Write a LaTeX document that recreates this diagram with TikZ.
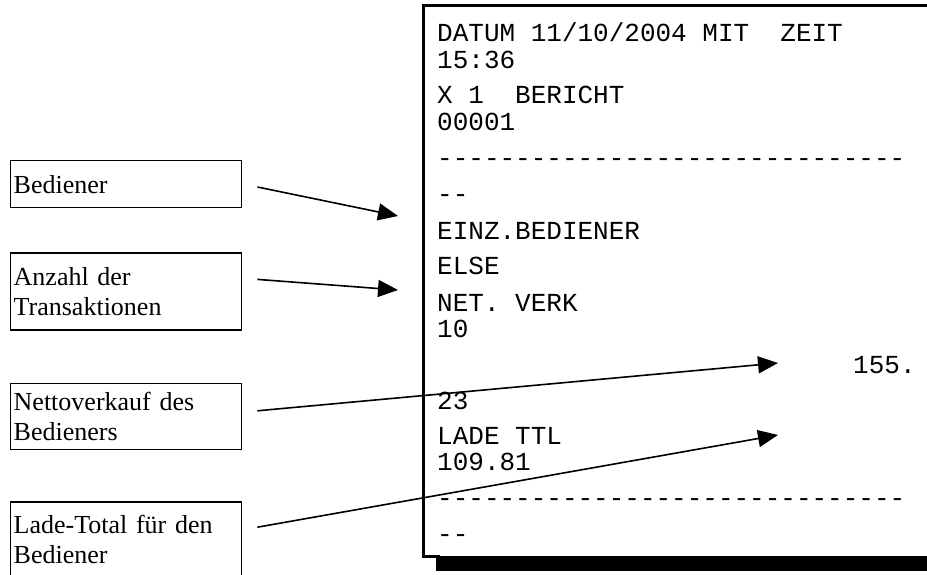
\documentclass[tikz,border=0pt]{standalone}
\usepackage{fontspec}
\setmainfont{Liberation Serif}
\setmonofont{Liberation Mono}
\usepackage{tikz}
\usetikzlibrary{arrows.meta, positioning, calc}

\begin{document}
\begin{tikzpicture}[
    x=1pt, y=-1pt,
    lbl/.style={rectangle, draw, line width=1.4pt, text width=225pt, inner xsep=3pt, minimum height=#1, align=left, font=\fontsize{26}{30}\selectfont},
    rline/.style={anchor=base west, inner sep=0pt, font=\ttfamily\fontsize{26}{28}\selectfont},
    arrow/.style={-{Triangle[length=20pt, width=17pt]}, line width=1.6pt}
]
\useasboundingbox (0,0) rectangle (927,575);
\clip (0,0) rectangle (927,575);

% labels on the left
\node[lbl=47pt, anchor=north west] (b1) at (10,160) {Bediener};
\node[lbl=77pt, below=44pt of b1] (b2) {Anzahl der\\Transaktionen};
\node[lbl=66pt, below=52pt of b2] (b3) {Nettoverkauf des\\Bedieners};
\node[lbl=0pt, below=51pt of b3, inner ysep=13pt, text depth=46pt] (b4) {Lade-Total f\"ur den\\Bediener};

% receipt
\fill (436,556) rectangle (940,571);
\draw[line width=3pt] (940,6) -| (423,556) -- (440,556);
\node[rline] (datum) at (437,41.5) {DATUM 11/10/2004 MIT\ \ ZEIT};
\node[rline] (zeit) at (437,68.5) {15:36};
\node[rline] (bericht) at (437,103.5) {X 1\ \ BERICHT};
\node[rline] (nr) at (437,130.5) {00001};
\node[rline] (sepa) at (437,166.5) {------------------------------};
\node[rline] (sepb) at (437,202.5) {--};
\node[rline] (einz) at (437,239.5) {EINZ.BEDIENER};
\node[rline] (else) at (437,274.5) {ELSE};
\node[rline] (netverk) at (437,311.5) {NET. VERK};
\node[rline] (ten) at (437,337.5) {10};
\node[rline] (neta) at (853,373.5) {155.};
\node[rline] (netb) at (437,409.5) {23};
\node[rline] (lade) at (437,444.5) {LADE TTL};
\node[rline] (ladeval) at (437,470.5) {109.81};
\node[rline] (sepc) at (437,506.5) {------------------------------};
\node[rline] (sepd) at (437,542.5) {--};

% arrow tips
\coordinate (t1) at (398,216);
\coordinate (t2) at (398,290);
\coordinate (t3) at (778,363);
\coordinate (t4) at (778,435);
\draw[arrow] ($(b1.north east)+(15,27)$) -- (t1);
\draw[arrow] ($(b2.north east)+(15,27)$) -- (t2);
\draw[arrow] ($(b3.north east)+(15,28)$) -- (t3);
\draw[arrow] ($(b4.north east)+(15,26)$) -- (t4);
\end{tikzpicture}
\end{document}
